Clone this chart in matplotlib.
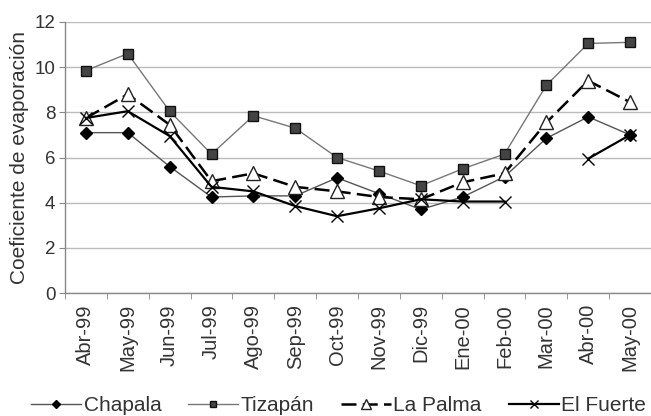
import matplotlib.pyplot as plt
import numpy as np

plt.rcParams['font.family'] = ['Liberation Sans', 'DejaVu Sans']

months = ["Abr-99", "May-99", "Jun-99", "Jul-99", "Ago-99", "Sep-99", "Oct-99",
          "Nov-99", "Dic-99", "Ene-00", "Feb-00", "Mar-00", "Abr-00", "May-00"]

chapala = [7.1, 7.1, 5.6, 4.25, 4.3, 4.3, 5.1, 4.4, 3.7, 4.25, 5.15, 6.85, 7.8, 7.0]
tizapan = [9.85, 10.6, 8.05, 6.15, 7.85, 7.3, 6.0, 5.4, 4.75, 5.5, 6.15, 9.2, 11.05, 11.1]
la_palma = [7.75, 8.8, 7.45, 4.95, 5.3, 4.7, 4.5, 4.25, 4.15, 4.9, 5.3, 7.55, 9.4, 8.45]
el_fuerte = [7.75, 8.05, 6.95, 4.7, 4.5, 3.85, 3.4, 3.75, 4.15, 4.05, 4.05, np.nan, 5.95, 7.0]

fig = plt.figure(figsize=(6.51, 4.16), dpi=100)
ax = fig.add_axes([65 / 651, 1 - 293 / 416, 586 / 651, 271 / 416])

x = np.arange(len(months))
txt = '#333333'

ax.plot(x, chapala, color='#555555', lw=1.0, marker='D', ms=6,
        mfc='black', mec='black', label='Chapala', zorder=3)
ax.plot(x, tizapan, color='#777777', lw=1.0, marker='s', ms=7,
        mfc='#444444', mec='#111111', label='Tizapán', zorder=3)
ax.plot(x, la_palma, color='black', lw=1.8, dashes=(6, 2.5), marker='^', ms=10,
        mfc='white', mec='#222222', mew=1.0, label='La Palma', zorder=4)
ax.plot(x, el_fuerte, color='black', lw=1.6, marker='x', ms=9, mew=1.0,
        label='El Fuerte', zorder=4)

ax.set_ylim(0, 12)
ax.set_xlim(-0.5, 13.33)
ax.set_yticks(np.arange(0, 13, 2))
ax.yaxis.grid(True, color='#bbbbbb', lw=1.0)
ax.set_axisbelow(True)

ax.set_xticks(x)
ax.set_xticklabels(months, rotation=90, fontsize=14.5, color=txt)
ax.set_xticks(np.arange(-0.5, 13.6, 1), minor=True)
ax.tick_params(axis='x', which='major', length=0, pad=8)
ax.tick_params(axis='x', which='minor', length=4, color='#888888', direction='out')
ax.tick_params(axis='y', length=4, color='#888888', labelsize=13.5, labelcolor=txt, pad=3)

for s in ['top', 'right']:
    ax.spines[s].set_visible(False)
for s in ['left', 'bottom']:
    ax.spines[s].set_color('#888888')
    ax.spines[s].set_linewidth(1.0)

ax.set_ylabel('Coeficiente de evaporación', fontsize=15, color=txt, labelpad=4)

fig.legend(loc='center', bbox_to_anchor=(0.52, 0.025), ncol=4, frameon=False,
           fontsize=15, handlelength=2.4, columnspacing=1.3, handletextpad=0.1,
           markerscale=0.7, labelcolor=txt, borderpad=0.1)

fig.savefig('out.png', dpi=100)
